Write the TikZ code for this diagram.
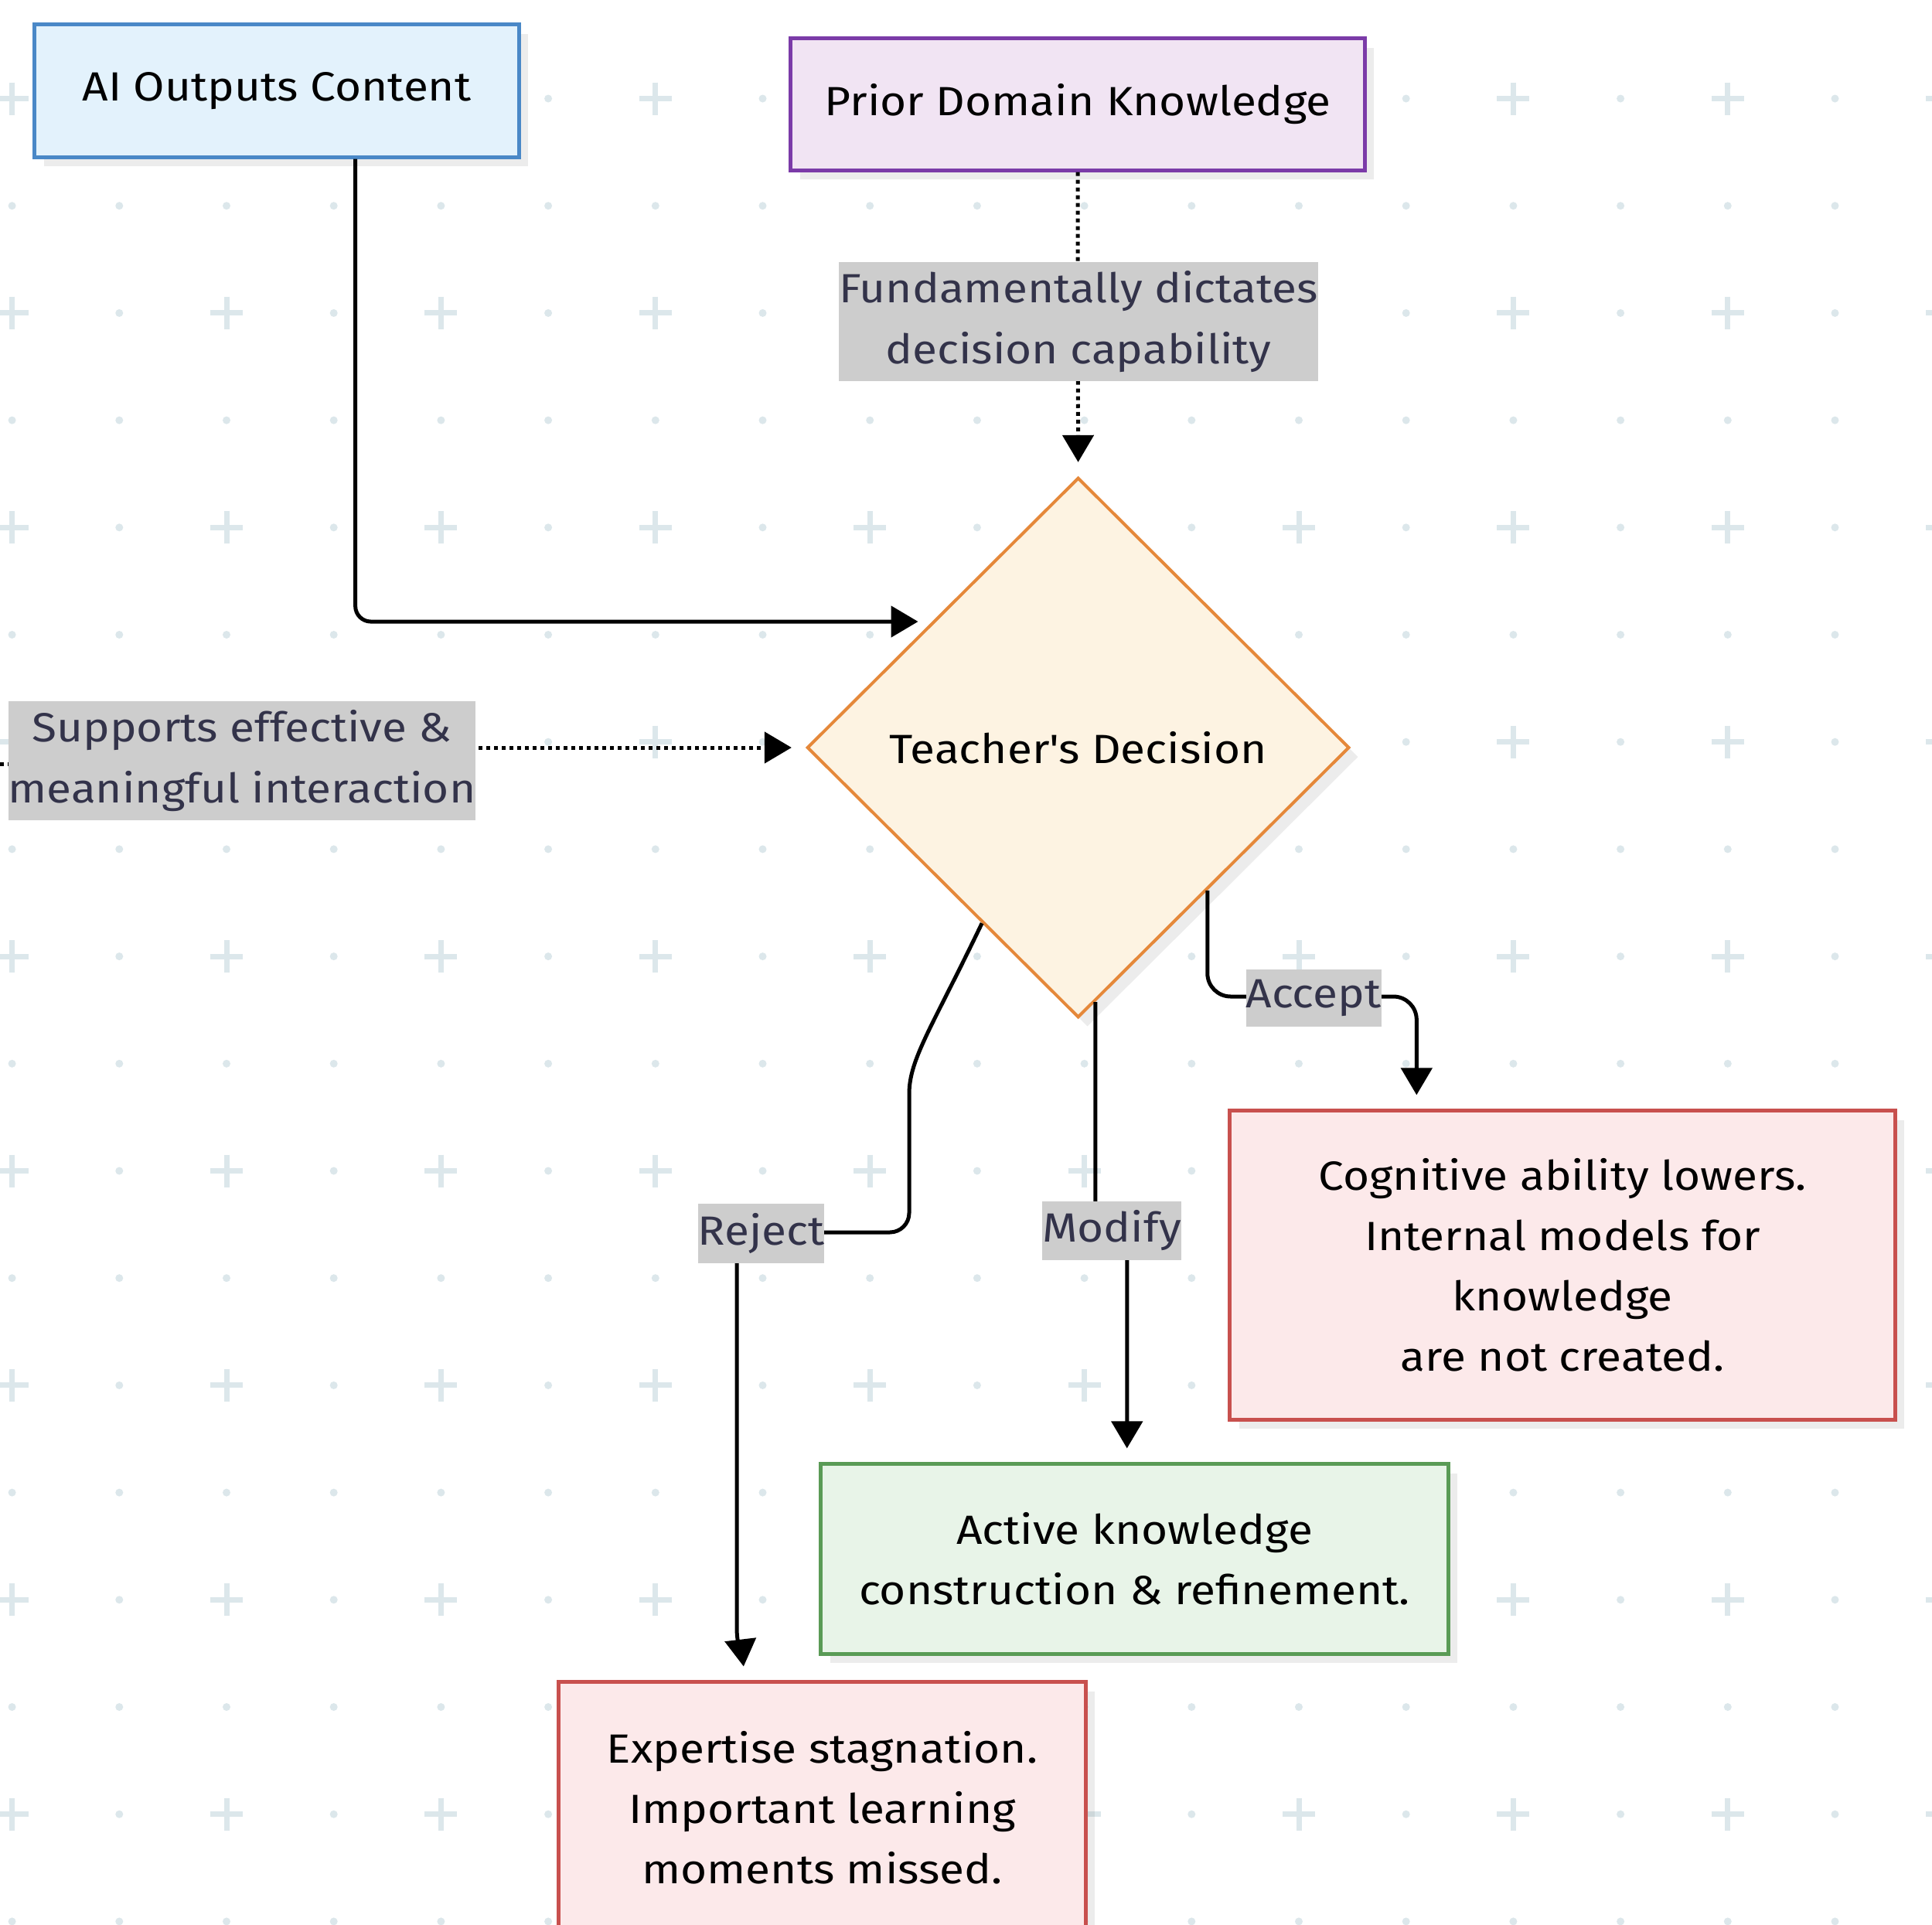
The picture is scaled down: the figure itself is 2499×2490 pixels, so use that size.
\documentclass[tikz,border=0pt]{standalone}
\usepackage{fontspec}
\setmainfont{Fira Sans}[FakeStretch=1.11]
\usetikzlibrary{shapes.geometric,arrows.meta,calc,shadows}
\definecolor{aifill}{HTML}{E3F2FC}
\definecolor{aistroke}{HTML}{4A88C7}
\definecolor{prfill}{HTML}{F1E4F3}
\definecolor{prstroke}{HTML}{7B3BA8}
\definecolor{decfill}{HTML}{FDF3E2}
\definecolor{decstroke}{HTML}{E5883A}
\definecolor{redfill}{HTML}{FCE9EA}
\definecolor{redstroke}{HTML}{C8504E}
\definecolor{grnfill}{HTML}{E8F4E8}
\definecolor{grnstroke}{HTML}{5A9B56}
\definecolor{lblbg}{HTML}{CDCDCD}
\definecolor{lbltext}{HTML}{33334A}
\definecolor{gridc}{HTML}{DCE7EB}
\newcommand\nfont{\fontsize{15}{22.2}\selectfont}
\begin{document}
\begin{tikzpicture}[x=0.01cm,y=-0.01cm,
  box/.style={draw, line width=0.05cm, inner sep=0pt, align=center, font=\nfont, text=black,
    drop shadow={shadow xshift=0.12cm, shadow yshift=-0.12cm, opacity=0.10, fill=black!70}},
  decbox/.style={box, shape=diamond, aspect=1},
  conn/.style={line width=0.05cm, -{Triangle[length=0.35cm,width=0.4cm]}, shorten >=0.18cm},
  dotline/.style={line width=0.05cm, dash pattern=on 0.05cm off 0.05cm},
  dotconn/.style={conn, dash pattern=on 0.05cm off 0.05cm},
  elabel/.style={fill=lblbg, text=lbltext, inner xsep=0pt, inner ysep=0pt, font=\nfont, align=center},
  gdot/.style={fill=gridc},
  gplus/.style={draw=gridc, line width=0.07cm}
]
\useasboundingbox (0,0) rectangle (2499,2490);
\clip (0,0) rectangle (2499,2490);
\fill[white] (0,0) rectangle (2499,2490);

% background grid
\foreach \r in {0,...,8}{
  \foreach \c in {0,...,9}{
    \draw[gplus] ({15.6+\c*277.4-21},{127.5+\r*277.4}) -- ({15.6+\c*277.4+21},{127.5+\r*277.4})
                 ({15.6+\c*277.4},{127.5+\r*277.4-21}) -- ({15.6+\c*277.4},{127.5+\r*277.4+21});
    \fill[gdot] ({154.3+\c*277.4},{127.5+\r*277.4}) circle[radius=0.05cm];
  }
}
\foreach \r in {0,...,9}{
  \foreach \c in {0,...,18}{
    \fill[gdot] ({15.6+\c*138.7},{-11.2+\r*277.4}) circle[radius=0.05cm];
  }
}

% nodes
\node[box, fill=aifill, draw=aistroke, minimum width=6.26cm, minimum height=1.71cm] (ai) at (358,117.5) {AI Outputs Content};
\node[box, fill=prfill, draw=prstroke, minimum width=7.42cm, minimum height=1.70cm] (prior) at (1394,135) {Prior Domain Knowledge};
\node[decbox, fill=decfill, draw=decstroke, line width=0.04cm, minimum width=7.01cm, minimum height=6.98cm] (dec) at (1394.6,967) {Teacher\textquotesingle s Decision};
\node[box, fill=redfill, draw=redstroke, minimum width=8.60cm, minimum height=3.99cm] (cog) at (2021,1636.5) {Cognitive ability lowers.\\Internal models for\\knowledge\\are not created.};
\node[box, fill=grnfill, draw=grnstroke, minimum width=8.11cm, minimum height=2.45cm] (act) at (1467.5,2016.5) {Active knowledge\\construction \& refinement.};
\node[box, fill=redfill, draw=redstroke, minimum width=6.81cm, minimum height=3.24cm] (exp) at (1063.5,2338) {Expertise stagnation.\\Important learning\\moments missed.};

% connector end points
\coordinate (aiOut) at ($(ai.south west)!0.661!(ai.south east)$);
\coordinate (aiEnd) at ($(dec.west)!0.464!(dec.north)$);
\coordinate (R0) at ($(dec.west)!0.647!(dec.south)$);
\coordinate (M0) at ($(dec.south)!0.063!(dec.east)$);
\coordinate (A0) at ($(dec.south)!0.474!(dec.east)$);
\coordinate (cogIn) at ($(cog.north west)!0.282!(cog.north east)$);
\coordinate (actIn) at ($(act.north west)!0.488!(act.north east)$);
\coordinate (expIn) at ($(exp.north west)!0.355!(exp.north east)$);
\coordinate (src) at (-60,988);

% connectors
\draw[conn, rounded corners=0.2cm] (aiOut) |- (aiEnd);
\draw[dotconn] (prior.south) -- (dec.north);
\draw[dotline] (src) -- (313,988);
\draw[dotconn] (609,967) -- (dec.west);
\draw[conn, rounded corners=0.25cm] (R0) .. controls (1205,1330) and (1176,1370) .. (1176,1440) -- (1176,1594) -- (953,1594) -- (953,2080) .. controls (953,2130) and (960,2140) .. (expIn);
\draw[conn] (M0) -- (1417,1592) -- (1458,1592) -- (actIn);
\draw[conn, rounded corners=0.3cm] (A0) -- (A0 |- 0,1289) -- (cogIn |- 0,1289) -- (cogIn);

% edge labels
\node[elabel, minimum height=1.53cm] (fund) at (1395,416) {Fundamentally dictates\\decision capability};
\node[elabel, minimum height=1.54cm] (supp) at (313,984) {Supports effective \&\\meaningful interaction};
\node[elabel, minimum height=0.77cm] (rej) at (984.5,1595.5) {Reject};
\node[elabel, minimum height=0.76cm] (mod) at (1438,1592) {Modify};
\node[elabel, minimum height=0.74cm] (acc) at (1699,1291) {Accept};
\end{tikzpicture}
\end{document}
